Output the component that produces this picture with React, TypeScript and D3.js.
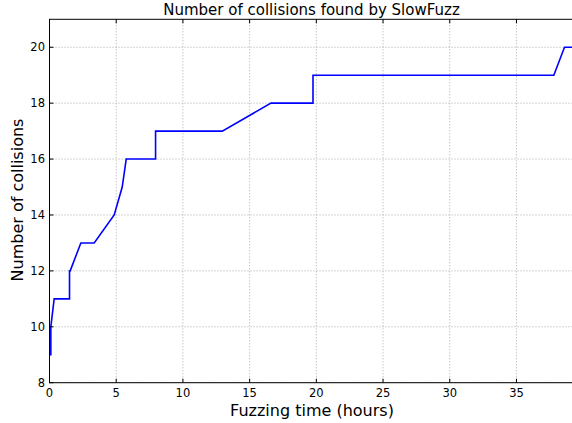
import React from "react";
import * as d3 from "d3";

const hours = [0, 0.1, 0.1, 0.35, 1.5, 1.5, 1.55, 2.35, 3.35, 4.85, 5.45, 5.75, 7.95, 7.95, 12.95, 16.6, 19.75, 19.75, 37.8, 38.6, 39.5];
const collisions = [9, 9, 10, 11, 11, 12, 12, 13, 13, 14, 15, 16, 16, 17, 17, 18, 18, 19, 19, 20, 20];
const xTicks = [0, 5, 10, 15, 20, 25, 30, 35];
const yTicks = [8, 10, 12, 14, 16, 18, 20];

const W = 572, H = 423;
const left = 49.5, right = 576.5, top = 19.3, bottom = 382.7;

export default function App() {
  const x = d3.scaleLinear().domain([0, 39.5]).range([left, right]);
  const y = d3.scaleLinear().domain([8, 21]).range([bottom, top]);
  const pts = hours.map((h, i) => [h, collisions[i]] as [number, number]);
  const line = d3.line<[number, number]>().x(d => x(d[0])).y(d => y(d[1]));
  const font = "DejaVu Sans, sans-serif";
  return (
    <svg width={W} height={H} style={{ position: "absolute", left: 0, top: 0, background: "#fff" }} fontFamily={font}>
      <rect x={0} y={0} width={W} height={H} fill="#fff" />
      {/* grid */}
      {xTicks.map(t => (
        <line key={"gx" + t} x1={x(t)} x2={x(t)} y1={top} y2={bottom} stroke="#aaa" strokeWidth={1} strokeDasharray="1,2" />
      ))}
      {yTicks.map(t => (
        <line key={"gy" + t} x1={left} x2={right} y1={y(t)} y2={y(t)} stroke="#aaa" strokeWidth={1} strokeDasharray="1,2" />
      ))}
      <path d={line(pts) || ""} fill="none" stroke="#0000ff" strokeWidth={1.6} />
      {/* spines */}
      <rect x={left} y={top} width={right - left} height={bottom - top} fill="none" stroke="#000" strokeWidth={1} />
      {/* ticks */}
      {xTicks.map(t => (
        <g key={"tx" + t}>
          <line x1={x(t)} x2={x(t)} y1={bottom} y2={bottom - 4} stroke="#000" />
          <line x1={x(t)} x2={x(t)} y1={top} y2={top + 4} stroke="#000" />
          <text x={x(t)} y={397} fontSize={11.5} textAnchor="middle" fill="#000">{t}</text>
        </g>
      ))}
      {yTicks.map(t => (
        <g key={"ty" + t}>
          <line x1={left} x2={left + 4} y1={y(t)} y2={y(t)} stroke="#000" />
          <line x1={right} x2={right - 4} y1={y(t)} y2={y(t)} stroke="#000" />
          <text x={45} y={y(t) + 4} fontSize={11.5} textAnchor="end" fill="#000">{t}</text>
        </g>
      ))}
      <text x={311.5} y={14.5} fontSize={15} textAnchor="middle" fill="#000">Number of collisions found by SlowFuzz</text>
      <text x={312} y={415.5} fontSize={16} textAnchor="middle" fill="#000">Fuzzing time (hours)</text>
      <text transform={`translate(23, 200) rotate(-90)`} fontSize={16} textAnchor="middle" fill="#000">Number of collisions</text>
    </svg>
  );
}
